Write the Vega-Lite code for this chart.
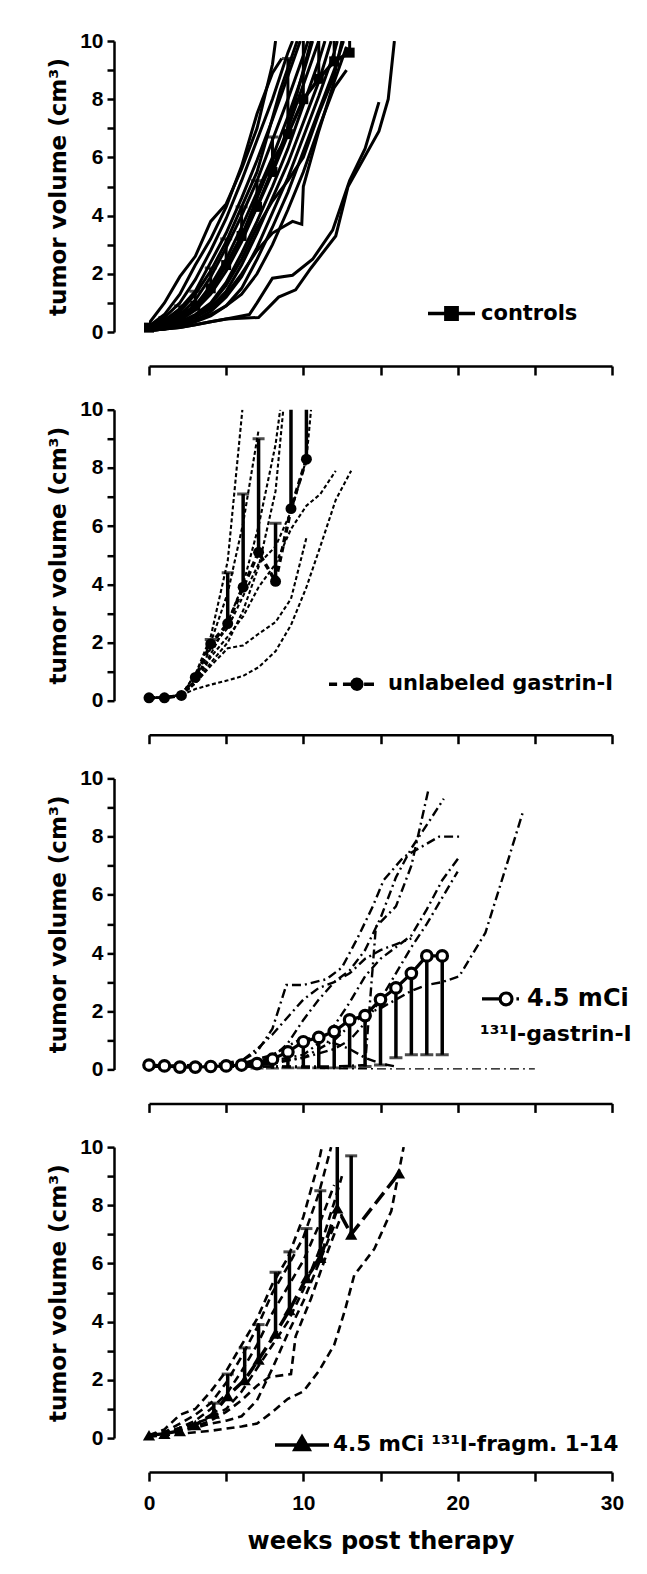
{
"$schema": "https://vega.github.io/schema/vega-lite/v6.json",
"padding": {"left": 47, "top": 30, "right": 0, "bottom": 0},
"background": "white",
"config": {
 "view": {"stroke": null},
 "axis": {"domainColor": "#000", "domainWidth": 2.5, "tickColor": "#000", "tickWidth": 2.5, "labelColor": "#000", "labelFont": "Liberation Sans", "labelFontWeight": "bold", "labelFontSize": 21, "titleColor": "#000", "titleFont": "DejaVu Sans", "titleFontWeight": "bold", "titleFontSize": 23, "grid": false},
 "legend": {"labelFont": "DejaVu Sans", "labelFontWeight": "bold", "labelFontSize": 21, "labelColor": "#000", "labelLimit": 500, "padding": 0, "titleFont": "DejaVu Sans", "titleFontWeight": "bold", "titleFontSize": 21, "titleColor": "#000", "titleLimit": 500, "symbolOpacity": 1, "symbolStrokeColor": "#000"}
},
"datasets": {
 "indiv": [
  {"panel":1,"mouse":"c1","week":0,"vol":0.3},{"panel":1,"mouse":"c1","week":1,"vol":1.0},{"panel":1,"mouse":"c1","week":2,"vol":1.9},{"panel":1,"mouse":"c1","week":3,"vol":2.6},{"panel":1,"mouse":"c1","week":4,"vol":3.8},{"panel":1,"mouse":"c1","week":5,"vol":4.4},{"panel":1,"mouse":"c1","week":6,"vol":5.6},{"panel":1,"mouse":"c1","week":7,"vol":7.0},{"panel":1,"mouse":"c1","week":8,"vol":9.2},{"panel":1,"mouse":"c1","week":8.2,"vol":10},
  {"panel":1,"mouse":"c2","week":0,"vol":0.2},{"panel":1,"mouse":"c2","week":1,"vol":0.6},{"panel":1,"mouse":"c2","week":2,"vol":1.3},{"panel":1,"mouse":"c2","week":3,"vol":2.3},{"panel":1,"mouse":"c2","week":4,"vol":3.2},{"panel":1,"mouse":"c2","week":5,"vol":4.3},{"panel":1,"mouse":"c2","week":6,"vol":5.7},{"panel":1,"mouse":"c2","week":7,"vol":7.5},{"panel":1,"mouse":"c2","week":8,"vol":8.9},{"panel":1,"mouse":"c2","week":8.6,"vol":9.4},
  {"panel":1,"mouse":"c3","week":0,"vol":0.2},{"panel":1,"mouse":"c3","week":1,"vol":0.5},{"panel":1,"mouse":"c3","week":2,"vol":1.0},{"panel":1,"mouse":"c3","week":3,"vol":1.8},{"panel":1,"mouse":"c3","week":4,"vol":2.8},{"panel":1,"mouse":"c3","week":5,"vol":3.9},{"panel":1,"mouse":"c3","week":6,"vol":5.2},{"panel":1,"mouse":"c3","week":7,"vol":6.6},{"panel":1,"mouse":"c3","week":8,"vol":8.0},{"panel":1,"mouse":"c3","week":9,"vol":9.6},{"panel":1,"mouse":"c3","week":9.3,"vol":10},
  {"panel":1,"mouse":"c4","week":0,"vol":0.15},{"panel":1,"mouse":"c4","week":1,"vol":0.4},{"panel":1,"mouse":"c4","week":2,"vol":0.8},{"panel":1,"mouse":"c4","week":3,"vol":1.4},{"panel":1,"mouse":"c4","week":4,"vol":2.4},{"panel":1,"mouse":"c4","week":5,"vol":3.4},{"panel":1,"mouse":"c4","week":6,"vol":4.6},{"panel":1,"mouse":"c4","week":7,"vol":5.9},{"panel":1,"mouse":"c4","week":8,"vol":7.3},{"panel":1,"mouse":"c4","week":9,"vol":8.8},{"panel":1,"mouse":"c4","week":9.8,"vol":10},
  {"panel":1,"mouse":"c5","week":0,"vol":0.1},{"panel":1,"mouse":"c5","week":1,"vol":0.3},{"panel":1,"mouse":"c5","week":2,"vol":0.6},{"panel":1,"mouse":"c5","week":3,"vol":1.1},{"panel":1,"mouse":"c5","week":4,"vol":1.9},{"panel":1,"mouse":"c5","week":5,"vol":2.9},{"panel":1,"mouse":"c5","week":6,"vol":4.0},{"panel":1,"mouse":"c5","week":7,"vol":5.2},{"panel":1,"mouse":"c5","week":8,"vol":6.6},{"panel":1,"mouse":"c5","week":9,"vol":8.0},{"panel":1,"mouse":"c5","week":10,"vol":9.5},{"panel":1,"mouse":"c5","week":10.3,"vol":10},
  {"panel":1,"mouse":"c6","week":0,"vol":0.1},{"panel":1,"mouse":"c6","week":1,"vol":0.25},{"panel":1,"mouse":"c6","week":2,"vol":0.5},{"panel":1,"mouse":"c6","week":3,"vol":0.9},{"panel":1,"mouse":"c6","week":4,"vol":1.6},{"panel":1,"mouse":"c6","week":5,"vol":2.5},{"panel":1,"mouse":"c6","week":6,"vol":3.6},{"panel":1,"mouse":"c6","week":7,"vol":4.8},{"panel":1,"mouse":"c6","week":8,"vol":6.0},{"panel":1,"mouse":"c6","week":9,"vol":7.4},{"panel":1,"mouse":"c6","week":10,"vol":8.9},{"panel":1,"mouse":"c6","week":10.6,"vol":10},
  {"panel":1,"mouse":"c7","week":0,"vol":0.1},{"panel":1,"mouse":"c7","week":1,"vol":0.2},{"panel":1,"mouse":"c7","week":2,"vol":0.4},{"panel":1,"mouse":"c7","week":3,"vol":0.75},{"panel":1,"mouse":"c7","week":4,"vol":1.3},{"panel":1,"mouse":"c7","week":5,"vol":2.1},{"panel":1,"mouse":"c7","week":6,"vol":3.1},{"panel":1,"mouse":"c7","week":7,"vol":4.3},{"panel":1,"mouse":"c7","week":8,"vol":5.6},{"panel":1,"mouse":"c7","week":9,"vol":7.0},{"panel":1,"mouse":"c7","week":10,"vol":8.5},{"panel":1,"mouse":"c7","week":11,"vol":10},
  {"panel":1,"mouse":"c8","week":0,"vol":0.1},{"panel":1,"mouse":"c8","week":1,"vol":0.2},{"panel":1,"mouse":"c8","week":2,"vol":0.35},{"panel":1,"mouse":"c8","week":3,"vol":0.6},{"panel":1,"mouse":"c8","week":4,"vol":1.0},{"panel":1,"mouse":"c8","week":5,"vol":1.7},{"panel":1,"mouse":"c8","week":6,"vol":2.7},{"panel":1,"mouse":"c8","week":7,"vol":3.8},{"panel":1,"mouse":"c8","week":8,"vol":5.0},{"panel":1,"mouse":"c8","week":9,"vol":6.3},{"panel":1,"mouse":"c8","week":10,"vol":7.8},{"panel":1,"mouse":"c8","week":11,"vol":9.3},{"panel":1,"mouse":"c8","week":11.4,"vol":10},
  {"panel":1,"mouse":"c9","week":0,"vol":0.1},{"panel":1,"mouse":"c9","week":1,"vol":0.15},{"panel":1,"mouse":"c9","week":2,"vol":0.3},{"panel":1,"mouse":"c9","week":3,"vol":0.5},{"panel":1,"mouse":"c9","week":4,"vol":0.85},{"panel":1,"mouse":"c9","week":5,"vol":1.4},{"panel":1,"mouse":"c9","week":6,"vol":2.3},{"panel":1,"mouse":"c9","week":7,"vol":3.4},{"panel":1,"mouse":"c9","week":8,"vol":4.6},{"panel":1,"mouse":"c9","week":9,"vol":5.8},{"panel":1,"mouse":"c9","week":10,"vol":7.2},{"panel":1,"mouse":"c9","week":11,"vol":8.6},{"panel":1,"mouse":"c9","week":11.8,"vol":10},
  {"panel":1,"mouse":"c10","week":0,"vol":0.05},{"panel":1,"mouse":"c10","week":1,"vol":0.1},{"panel":1,"mouse":"c10","week":2,"vol":0.25},{"panel":1,"mouse":"c10","week":3,"vol":0.4},{"panel":1,"mouse":"c10","week":4,"vol":0.7},{"panel":1,"mouse":"c10","week":5,"vol":1.2},{"panel":1,"mouse":"c10","week":6,"vol":1.9},{"panel":1,"mouse":"c10","week":7,"vol":2.9},{"panel":1,"mouse":"c10","week":8,"vol":4.1},{"panel":1,"mouse":"c10","week":9,"vol":5.3},{"panel":1,"mouse":"c10","week":10,"vol":6.7},{"panel":1,"mouse":"c10","week":11,"vol":8.1},{"panel":1,"mouse":"c10","week":12,"vol":9.6},{"panel":1,"mouse":"c10","week":12.2,"vol":10},
  {"panel":1,"mouse":"c11","week":0,"vol":0.05},{"panel":1,"mouse":"c11","week":1,"vol":0.1},{"panel":1,"mouse":"c11","week":2,"vol":0.2},{"panel":1,"mouse":"c11","week":3,"vol":0.35},{"panel":1,"mouse":"c11","week":4,"vol":0.55},{"panel":1,"mouse":"c11","week":5,"vol":0.9},{"panel":1,"mouse":"c11","week":6,"vol":1.5},{"panel":1,"mouse":"c11","week":7,"vol":2.5},{"panel":1,"mouse":"c11","week":8,"vol":3.6},{"panel":1,"mouse":"c11","week":9,"vol":4.8},{"panel":1,"mouse":"c11","week":10,"vol":6.2},{"panel":1,"mouse":"c11","week":11,"vol":7.6},{"panel":1,"mouse":"c11","week":12,"vol":9.0},{"panel":1,"mouse":"c11","week":12.6,"vol":10},
  {"panel":1,"mouse":"c12","week":0,"vol":0.1},{"panel":1,"mouse":"c12","week":1,"vol":0.2},{"panel":1,"mouse":"c12","week":2,"vol":0.3},{"panel":1,"mouse":"c12","week":3,"vol":0.5},{"panel":1,"mouse":"c12","week":4,"vol":0.8},{"panel":1,"mouse":"c12","week":5,"vol":1.3},{"panel":1,"mouse":"c12","week":6,"vol":2.0},{"panel":1,"mouse":"c12","week":7,"vol":2.8},{"panel":1,"mouse":"c12","week":8,"vol":3.4},{"panel":1,"mouse":"c12","week":9.3,"vol":3.8},{"panel":1,"mouse":"c12","week":9.9,"vol":3.7},{"panel":1,"mouse":"c12","week":10,"vol":5.0},{"panel":1,"mouse":"c12","week":11,"vol":6.9},{"panel":1,"mouse":"c12","week":12,"vol":8.6},{"panel":1,"mouse":"c12","week":12.8,"vol":9.8},
  {"panel":1,"mouse":"c13","week":0,"vol":0.1},{"panel":1,"mouse":"c13","week":1,"vol":0.15},{"panel":1,"mouse":"c13","week":2,"vol":0.25},{"panel":1,"mouse":"c13","week":3,"vol":0.4},{"panel":1,"mouse":"c13","week":4,"vol":0.6},{"panel":1,"mouse":"c13","week":5,"vol":0.9},{"panel":1,"mouse":"c13","week":6,"vol":1.3},{"panel":1,"mouse":"c13","week":7,"vol":2.0},{"panel":1,"mouse":"c13","week":8,"vol":3.0},{"panel":1,"mouse":"c13","week":9,"vol":4.2},{"panel":1,"mouse":"c13","week":10,"vol":5.5},{"panel":1,"mouse":"c13","week":11,"vol":7.0},{"panel":1,"mouse":"c13","week":12,"vol":8.4},{"panel":1,"mouse":"c13","week":12.8,"vol":9.0},
  {"panel":1,"mouse":"c14","week":0,"vol":0.05},{"panel":1,"mouse":"c14","week":1,"vol":0.1},{"panel":1,"mouse":"c14","week":2,"vol":0.15},{"panel":1,"mouse":"c14","week":3,"vol":0.25},{"panel":1,"mouse":"c14","week":4,"vol":0.35},{"panel":1,"mouse":"c14","week":5,"vol":0.45},{"panel":1,"mouse":"c14","week":6.5,"vol":0.6},{"panel":1,"mouse":"c14","week":7,"vol":1.0},{"panel":1,"mouse":"c14","week":8,"vol":1.85},{"panel":1,"mouse":"c14","week":9.3,"vol":1.95},{"panel":1,"mouse":"c14","week":10.6,"vol":2.5},{"panel":1,"mouse":"c14","week":11.9,"vol":3.5},{"panel":1,"mouse":"c14","week":13,"vol":5.2},{"panel":1,"mouse":"c14","week":14,"vol":6.3},{"panel":1,"mouse":"c14","week":14.9,"vol":7.9},
  {"panel":1,"mouse":"c15","week":0,"vol":0.05},{"panel":1,"mouse":"c15","week":1,"vol":0.1},{"panel":1,"mouse":"c15","week":2,"vol":0.15},{"panel":1,"mouse":"c15","week":3,"vol":0.25},{"panel":1,"mouse":"c15","week":4,"vol":0.35},{"panel":1,"mouse":"c15","week":5,"vol":0.45},{"panel":1,"mouse":"c15","week":7.1,"vol":0.5},{"panel":1,"mouse":"c15","week":8.4,"vol":1.2},{"panel":1,"mouse":"c15","week":9.5,"vol":1.45},{"panel":1,"mouse":"c15","week":10.5,"vol":2.2},{"panel":1,"mouse":"c15","week":12.1,"vol":3.3},{"panel":1,"mouse":"c15","week":12.9,"vol":5.0},{"panel":1,"mouse":"c15","week":14.9,"vol":6.9},{"panel":1,"mouse":"c15","week":15.5,"vol":8.0},{"panel":1,"mouse":"c15","week":15.9,"vol":10},
  {"panel":1,"mouse":"c16","week":0,"vol":0.1},{"panel":1,"mouse":"c16","week":1,"vol":0.2},{"panel":1,"mouse":"c16","week":2,"vol":0.45},{"panel":1,"mouse":"c16","week":3,"vol":0.8},{"panel":1,"mouse":"c16","week":4,"vol":1.4},{"panel":1,"mouse":"c16","week":5,"vol":2.3},{"panel":1,"mouse":"c16","week":6,"vol":3.3},{"panel":1,"mouse":"c16","week":7,"vol":4.6},{"panel":1,"mouse":"c16","week":8,"vol":5.9},{"panel":1,"mouse":"c16","week":8.7,"vol":6.5},{"panel":1,"mouse":"c16","week":9.5,"vol":8.0},{"panel":1,"mouse":"c16","week":10.5,"vol":10},
  {"panel":1,"mouse":"c17","week":0,"vol":0.1},{"panel":1,"mouse":"c17","week":1,"vol":0.15},{"panel":1,"mouse":"c17","week":2,"vol":0.3},{"panel":1,"mouse":"c17","week":3,"vol":0.55},{"panel":1,"mouse":"c17","week":4,"vol":0.95},{"panel":1,"mouse":"c17","week":5,"vol":1.6},{"panel":1,"mouse":"c17","week":6,"vol":2.5},{"panel":1,"mouse":"c17","week":7,"vol":3.6},{"panel":1,"mouse":"c17","week":8,"vol":4.5},{"panel":1,"mouse":"c17","week":9,"vol":5.2},{"panel":1,"mouse":"c17","week":10,"vol":6.0},{"panel":1,"mouse":"c17","week":11,"vol":7.5},{"panel":1,"mouse":"c17","week":12,"vol":8.8},{"panel":1,"mouse":"c17","week":12.5,"vol":10},
  {"panel":1,"mouse":"c18","week":0,"vol":0.15},{"panel":1,"mouse":"c18","week":1,"vol":0.35},{"panel":1,"mouse":"c18","week":2,"vol":0.7},{"panel":1,"mouse":"c18","week":3,"vol":1.3},{"panel":1,"mouse":"c18","week":4,"vol":2.1},{"panel":1,"mouse":"c18","week":5,"vol":3.1},{"panel":1,"mouse":"c18","week":6,"vol":4.3},{"panel":1,"mouse":"c18","week":7,"vol":5.5},{"panel":1,"mouse":"c18","week":7.6,"vol":6.6},{"panel":1,"mouse":"c18","week":8.5,"vol":8.3},{"panel":1,"mouse":"c18","week":9.6,"vol":10},

  {"panel":2,"mouse":"u1","week":0,"vol":0.1},{"panel":2,"mouse":"u1","week":1,"vol":0.1},{"panel":2,"mouse":"u1","week":2.1,"vol":0.2},{"panel":2,"mouse":"u1","week":3,"vol":0.9},{"panel":2,"mouse":"u1","week":4,"vol":2.2},{"panel":2,"mouse":"u1","week":5.1,"vol":4.8},{"panel":2,"mouse":"u1","week":6.05,"vol":10},
  {"panel":2,"mouse":"u2","week":0,"vol":0.1},{"panel":2,"mouse":"u2","week":1,"vol":0.1},{"panel":2,"mouse":"u2","week":2.1,"vol":0.2},{"panel":2,"mouse":"u2","week":3,"vol":0.7},{"panel":2,"mouse":"u2","week":4,"vol":1.6},{"panel":2,"mouse":"u2","week":5.1,"vol":2.7},{"panel":2,"mouse":"u2","week":6.1,"vol":4.0},{"panel":2,"mouse":"u2","week":7.1,"vol":6.0},{"panel":2,"mouse":"u2","week":8.2,"vol":8.8},{"panel":2,"mouse":"u2","week":8.5,"vol":10},
  {"panel":2,"mouse":"u3","week":0,"vol":0.1},{"panel":2,"mouse":"u3","week":1,"vol":0.1},{"panel":2,"mouse":"u3","week":2.1,"vol":0.2},{"panel":2,"mouse":"u3","week":3,"vol":0.9},{"panel":2,"mouse":"u3","week":4,"vol":2.0},{"panel":2,"mouse":"u3","week":5.1,"vol":3.7},{"panel":2,"mouse":"u3","week":6.1,"vol":6.1},{"panel":2,"mouse":"u3","week":7.1,"vol":9.3},
  {"panel":2,"mouse":"u4","week":0,"vol":0.1},{"panel":2,"mouse":"u4","week":1,"vol":0.1},{"panel":2,"mouse":"u4","week":2.1,"vol":0.2},{"panel":2,"mouse":"u4","week":3,"vol":0.6},{"panel":2,"mouse":"u4","week":4,"vol":1.3},{"panel":2,"mouse":"u4","week":5.1,"vol":2.0},{"panel":2,"mouse":"u4","week":6.1,"vol":3.1},{"panel":2,"mouse":"u4","week":7.1,"vol":4.6},{"panel":2,"mouse":"u4","week":8.2,"vol":7.2},{"panel":2,"mouse":"u4","week":8.7,"vol":10},
  {"panel":2,"mouse":"u5","week":0,"vol":0.1},{"panel":2,"mouse":"u5","week":1,"vol":0.1},{"panel":2,"mouse":"u5","week":2.1,"vol":0.2},{"panel":2,"mouse":"u5","week":3,"vol":0.6},{"panel":2,"mouse":"u5","week":4,"vol":1.5},{"panel":2,"mouse":"u5","week":5.1,"vol":2.2},{"panel":2,"mouse":"u5","week":6.1,"vol":2.9},{"panel":2,"mouse":"u5","week":7.1,"vol":3.9},{"panel":2,"mouse":"u5","week":8.2,"vol":4.7},{"panel":2,"mouse":"u5","week":9.2,"vol":5.9},{"panel":2,"mouse":"u5","week":10.2,"vol":6.7},{"panel":2,"mouse":"u5","week":11.1,"vol":7.1},{"panel":2,"mouse":"u5","week":12.1,"vol":7.9},
  {"panel":2,"mouse":"u6","week":0,"vol":0.1},{"panel":2,"mouse":"u6","week":1,"vol":0.1},{"panel":2,"mouse":"u6","week":2.1,"vol":0.2},{"panel":2,"mouse":"u6","week":3,"vol":0.4},{"panel":2,"mouse":"u6","week":4,"vol":0.55},{"panel":2,"mouse":"u6","week":5.1,"vol":0.7},{"panel":2,"mouse":"u6","week":6.1,"vol":0.85},{"panel":2,"mouse":"u6","week":7.1,"vol":1.15},{"panel":2,"mouse":"u6","week":8.2,"vol":1.7},{"panel":2,"mouse":"u6","week":9.2,"vol":2.6},{"panel":2,"mouse":"u6","week":10.2,"vol":3.9},{"panel":2,"mouse":"u6","week":11.1,"vol":5.3},{"panel":2,"mouse":"u6","week":12.1,"vol":6.9},{"panel":2,"mouse":"u6","week":13.1,"vol":7.9},
  {"panel":2,"mouse":"u7","week":0,"vol":0.1},{"panel":2,"mouse":"u7","week":1,"vol":0.1},{"panel":2,"mouse":"u7","week":2.1,"vol":0.2},{"panel":2,"mouse":"u7","week":3,"vol":0.6},{"panel":2,"mouse":"u7","week":4,"vol":1.2},{"panel":2,"mouse":"u7","week":5.1,"vol":1.8},{"panel":2,"mouse":"u7","week":6.1,"vol":1.9},{"panel":2,"mouse":"u7","week":7.1,"vol":2.3},{"panel":2,"mouse":"u7","week":8.2,"vol":2.7},{"panel":2,"mouse":"u7","week":9.2,"vol":3.5},{"panel":2,"mouse":"u7","week":10.2,"vol":5.6},
  {"panel":2,"mouse":"u8","week":0,"vol":0.1},{"panel":2,"mouse":"u8","week":1,"vol":0.1},{"panel":2,"mouse":"u8","week":2.1,"vol":0.2},{"panel":2,"mouse":"u8","week":3,"vol":0.7},{"panel":2,"mouse":"u8","week":4,"vol":1.8},{"panel":2,"mouse":"u8","week":5.1,"vol":2.5},{"panel":2,"mouse":"u8","week":6.1,"vol":3.6},{"panel":2,"mouse":"u8","week":7.1,"vol":4.7},{"panel":2,"mouse":"u8","week":8.2,"vol":5.3},{"panel":2,"mouse":"u8","week":9.2,"vol":6.5},{"panel":2,"mouse":"u8","week":10.2,"vol":8.3},{"panel":2,"mouse":"u8","week":10.5,"vol":10},

  {"panel":3,"mouse":"g1","week":0,"vol":0.1},{"panel":3,"mouse":"g1","week":2,"vol":0.1},{"panel":3,"mouse":"g1","week":4,"vol":0.15},{"panel":3,"mouse":"g1","week":6,"vol":0.3},{"panel":3,"mouse":"g1","week":7,"vol":0.6},{"panel":3,"mouse":"g1","week":8,"vol":1.4},{"panel":3,"mouse":"g1","week":8.9,"vol":2.9},{"panel":3,"mouse":"g1","week":10,"vol":2.9},{"panel":3,"mouse":"g1","week":11.5,"vol":3.1},{"panel":3,"mouse":"g1","week":12.5,"vol":3.5},{"panel":3,"mouse":"g1","week":13.5,"vol":4.5},{"panel":3,"mouse":"g1","week":14.5,"vol":5.6},{"panel":3,"mouse":"g1","week":15.2,"vol":6.5},{"panel":3,"mouse":"g1","week":16.5,"vol":7.3},{"panel":3,"mouse":"g1","week":17.5,"vol":7.6},{"panel":3,"mouse":"g1","week":18.8,"vol":8.0},{"panel":3,"mouse":"g1","week":20.2,"vol":8.0},
  {"panel":3,"mouse":"g2","week":0,"vol":0.1},{"panel":3,"mouse":"g2","week":4,"vol":0.1},{"panel":3,"mouse":"g2","week":6,"vol":0.2},{"panel":3,"mouse":"g2","week":8,"vol":0.4},{"panel":3,"mouse":"g2","week":9,"vol":0.9},{"panel":3,"mouse":"g2","week":10,"vol":1.7},{"panel":3,"mouse":"g2","week":11,"vol":2.4},{"panel":3,"mouse":"g2","week":12,"vol":3.0},{"panel":3,"mouse":"g2","week":13,"vol":3.4},{"panel":3,"mouse":"g2","week":14,"vol":4.1},{"panel":3,"mouse":"g2","week":15,"vol":5.2},{"panel":3,"mouse":"g2","week":16,"vol":6.6},{"panel":3,"mouse":"g2","week":17,"vol":7.6},{"panel":3,"mouse":"g2","week":18,"vol":8.4},{"panel":3,"mouse":"g2","week":19.1,"vol":9.3},
  {"panel":3,"mouse":"g3","week":0,"vol":0.1},{"panel":3,"mouse":"g3","week":6,"vol":0.1},{"panel":3,"mouse":"g3","week":10,"vol":0.1},{"panel":3,"mouse":"g3","week":12,"vol":0.1},{"panel":3,"mouse":"g3","week":14,"vol":0.15},{"panel":3,"mouse":"g3","week":14.7,"vol":4.9},{"panel":3,"mouse":"g3","week":16,"vol":5.6},{"panel":3,"mouse":"g3","week":17,"vol":7.0},{"panel":3,"mouse":"g3","week":18.1,"vol":9.6},
  {"panel":3,"mouse":"g4","week":0,"vol":0.1},{"panel":3,"mouse":"g4","week":6,"vol":0.2},{"panel":3,"mouse":"g4","week":8,"vol":0.3},{"panel":3,"mouse":"g4","week":10,"vol":0.5},{"panel":3,"mouse":"g4","week":11,"vol":0.9},{"panel":3,"mouse":"g4","week":12,"vol":1.5},{"panel":3,"mouse":"g4","week":13,"vol":2.3},{"panel":3,"mouse":"g4","week":14,"vol":3.2},{"panel":3,"mouse":"g4","week":15,"vol":3.8},{"panel":3,"mouse":"g4","week":16,"vol":4.2},{"panel":3,"mouse":"g4","week":17,"vol":4.6},{"panel":3,"mouse":"g4","week":18,"vol":5.5},{"panel":3,"mouse":"g4","week":19,"vol":6.5},{"panel":3,"mouse":"g4","week":20.1,"vol":7.3},
  {"panel":3,"mouse":"g5","week":0,"vol":0.1},{"panel":3,"mouse":"g5","week":6,"vol":0.15},{"panel":3,"mouse":"g5","week":8,"vol":0.25},{"panel":3,"mouse":"g5","week":10,"vol":0.4},{"panel":3,"mouse":"g5","week":12,"vol":0.7},{"panel":3,"mouse":"g5","week":13,"vol":1.0},{"panel":3,"mouse":"g5","week":14,"vol":1.6},{"panel":3,"mouse":"g5","week":15,"vol":2.4},{"panel":3,"mouse":"g5","week":16,"vol":3.3},{"panel":3,"mouse":"g5","week":17,"vol":4.2},{"panel":3,"mouse":"g5","week":18,"vol":5.0},{"panel":3,"mouse":"g5","week":19,"vol":5.9},{"panel":3,"mouse":"g5","week":20,"vol":6.8},
  {"panel":3,"mouse":"g6","week":0,"vol":0.1},{"panel":3,"mouse":"g6","week":6,"vol":0.15},{"panel":3,"mouse":"g6","week":8,"vol":0.2},{"panel":3,"mouse":"g6","week":10,"vol":0.4},{"panel":3,"mouse":"g6","week":12,"vol":1.0},{"panel":3,"mouse":"g6","week":13,"vol":1.5},{"panel":3,"mouse":"g6","week":14,"vol":1.9},{"panel":3,"mouse":"g6","week":15,"vol":2.1},{"panel":3,"mouse":"g6","week":16,"vol":2.4},{"panel":3,"mouse":"g6","week":17,"vol":2.7},{"panel":3,"mouse":"g6","week":18,"vol":2.9},{"panel":3,"mouse":"g6","week":19,"vol":3.0},{"panel":3,"mouse":"g6","week":20.1,"vol":3.2},{"panel":3,"mouse":"g6","week":21.8,"vol":4.7},{"panel":3,"mouse":"g6","week":23.1,"vol":6.9},{"panel":3,"mouse":"g6","week":24.2,"vol":8.8},
  {"panel":3,"mouse":"g7","week":0,"vol":0.1},{"panel":3,"mouse":"g7","week":4,"vol":0.1},{"panel":3,"mouse":"g7","week":8,"vol":0.1},{"panel":3,"mouse":"g7","week":11,"vol":0.05},{"panel":3,"mouse":"g7","week":13,"vol":0.02},{"panel":3,"mouse":"g7","week":15,"vol":0},{"panel":3,"mouse":"g7","week":20,"vol":0},{"panel":3,"mouse":"g7","week":25,"vol":0},
  {"panel":3,"mouse":"g8","week":0,"vol":0.1},{"panel":3,"mouse":"g8","week":5,"vol":0.15},{"panel":3,"mouse":"g8","week":6,"vol":0.3},{"panel":3,"mouse":"g8","week":7,"vol":0.7},{"panel":3,"mouse":"g8","week":8,"vol":1.2},{"panel":3,"mouse":"g8","week":9,"vol":1.8},{"panel":3,"mouse":"g8","week":10,"vol":2.4},{"panel":3,"mouse":"g8","week":11,"vol":2.8},{"panel":3,"mouse":"g8","week":12,"vol":3.0},{"panel":3,"mouse":"g8","week":13,"vol":3.3},{"panel":3,"mouse":"g8","week":14,"vol":3.8},{"panel":3,"mouse":"g8","week":15,"vol":4.1},{"panel":3,"mouse":"g8","week":16,"vol":4.3},{"panel":3,"mouse":"g8","week":17,"vol":4.5},
  {"panel":3,"mouse":"g9","week":0,"vol":0.1},{"panel":3,"mouse":"g9","week":6,"vol":0.2},{"panel":3,"mouse":"g9","week":8,"vol":0.5},{"panel":3,"mouse":"g9","week":9,"vol":0.8},{"panel":3,"mouse":"g9","week":10,"vol":1.1},{"panel":3,"mouse":"g9","week":11,"vol":1.0},{"panel":3,"mouse":"g9","week":12,"vol":0.9},{"panel":3,"mouse":"g9","week":13,"vol":0.7},{"panel":3,"mouse":"g9","week":14,"vol":0.4},{"panel":3,"mouse":"g9","week":15,"vol":0.2},{"panel":3,"mouse":"g9","week":16,"vol":0.1},

  {"panel":4,"mouse":"f1","week":0,"vol":0.1},{"panel":4,"mouse":"f1","week":1,"vol":0.3},{"panel":4,"mouse":"f1","week":2,"vol":0.8},{"panel":4,"mouse":"f1","week":3,"vol":1.0},{"panel":4,"mouse":"f1","week":4,"vol":1.6},{"panel":4,"mouse":"f1","week":5,"vol":2.3},{"panel":4,"mouse":"f1","week":6,"vol":3.2},{"panel":4,"mouse":"f1","week":7,"vol":4.1},{"panel":4,"mouse":"f1","week":8,"vol":5.3},{"panel":4,"mouse":"f1","week":9,"vol":6.2},{"panel":4,"mouse":"f1","week":10,"vol":7.6},{"panel":4,"mouse":"f1","week":11,"vol":9.5},{"panel":4,"mouse":"f1","week":11.2,"vol":10},
  {"panel":4,"mouse":"f2","week":0,"vol":0.1},{"panel":4,"mouse":"f2","week":1,"vol":0.2},{"panel":4,"mouse":"f2","week":2,"vol":0.5},{"panel":4,"mouse":"f2","week":3,"vol":0.8},{"panel":4,"mouse":"f2","week":4,"vol":1.2},{"panel":4,"mouse":"f2","week":5,"vol":1.9},{"panel":4,"mouse":"f2","week":6,"vol":2.8},{"panel":4,"mouse":"f2","week":7,"vol":3.8},{"panel":4,"mouse":"f2","week":8,"vol":5.0},{"panel":4,"mouse":"f2","week":9,"vol":5.9},{"panel":4,"mouse":"f2","week":10,"vol":6.9},{"panel":4,"mouse":"f2","week":11,"vol":8.4},{"panel":4,"mouse":"f2","week":11.8,"vol":10},
  {"panel":4,"mouse":"f3","week":0,"vol":0.05},{"panel":4,"mouse":"f3","week":1,"vol":0.15},{"panel":4,"mouse":"f3","week":2,"vol":0.35},{"panel":4,"mouse":"f3","week":3,"vol":0.6},{"panel":4,"mouse":"f3","week":4,"vol":1.0},{"panel":4,"mouse":"f3","week":5,"vol":1.5},{"panel":4,"mouse":"f3","week":6,"vol":2.3},{"panel":4,"mouse":"f3","week":7,"vol":3.2},{"panel":4,"mouse":"f3","week":8,"vol":4.3},{"panel":4,"mouse":"f3","week":9,"vol":5.2},{"panel":4,"mouse":"f3","week":10,"vol":6.1},{"panel":4,"mouse":"f3","week":11,"vol":7.3},{"panel":4,"mouse":"f3","week":12,"vol":8.7},
  {"panel":4,"mouse":"f4","week":0,"vol":0.1},{"panel":4,"mouse":"f4","week":1,"vol":0.2},{"panel":4,"mouse":"f4","week":2,"vol":0.3},{"panel":4,"mouse":"f4","week":3,"vol":0.4},{"panel":4,"mouse":"f4","week":4,"vol":0.6},{"panel":4,"mouse":"f4","week":5,"vol":0.9},{"panel":4,"mouse":"f4","week":6,"vol":1.3},{"panel":4,"mouse":"f4","week":7,"vol":1.8},{"panel":4,"mouse":"f4","week":7.8,"vol":2.1},{"panel":4,"mouse":"f4","week":9.2,"vol":2.2},{"panel":4,"mouse":"f4","week":9.5,"vol":3.5},{"panel":4,"mouse":"f4","week":10.5,"vol":4.8},{"panel":4,"mouse":"f4","week":11.5,"vol":6.3},{"panel":4,"mouse":"f4","week":12.5,"vol":7.7},
  {"panel":4,"mouse":"f5","week":0,"vol":0.05},{"panel":4,"mouse":"f5","week":2,"vol":0.15},{"panel":4,"mouse":"f5","week":4,"vol":0.25},{"panel":4,"mouse":"f5","week":6,"vol":0.4},{"panel":4,"mouse":"f5","week":7,"vol":0.5},{"panel":4,"mouse":"f5","week":8,"vol":0.9},{"panel":4,"mouse":"f5","week":9,"vol":1.35},{"panel":4,"mouse":"f5","week":10,"vol":1.6},{"panel":4,"mouse":"f5","week":11,"vol":2.3},{"panel":4,"mouse":"f5","week":12,"vol":3.2},{"panel":4,"mouse":"f5","week":12.7,"vol":4.4},{"panel":4,"mouse":"f5","week":13.3,"vol":5.6},{"panel":4,"mouse":"f5","week":14.6,"vol":6.5},{"panel":4,"mouse":"f5","week":15.7,"vol":7.8},{"panel":4,"mouse":"f5","week":16.5,"vol":10},
  {"panel":4,"mouse":"f6","week":0,"vol":0.1},{"panel":4,"mouse":"f6","week":1,"vol":0.2},{"panel":4,"mouse":"f6","week":2,"vol":0.35},{"panel":4,"mouse":"f6","week":3,"vol":0.5},{"panel":4,"mouse":"f6","week":4,"vol":0.7},{"panel":4,"mouse":"f6","week":5,"vol":1.0},{"panel":4,"mouse":"f6","week":6,"vol":1.6},{"panel":4,"mouse":"f6","week":7,"vol":2.4},{"panel":4,"mouse":"f6","week":8,"vol":3.2},{"panel":4,"mouse":"f6","week":9,"vol":4.0},{"panel":4,"mouse":"f6","week":10,"vol":5.1},{"panel":4,"mouse":"f6","week":11,"vol":6.4},{"panel":4,"mouse":"f6","week":12,"vol":8.1},{"panel":4,"mouse":"f6","week":12.5,"vol":9.0},
  {"panel":4,"mouse":"f7","week":0,"vol":0.1},{"panel":4,"mouse":"f7","week":1,"vol":0.15},{"panel":4,"mouse":"f7","week":2,"vol":0.25},{"panel":4,"mouse":"f7","week":3,"vol":0.35},{"panel":4,"mouse":"f7","week":4,"vol":0.5},{"panel":4,"mouse":"f7","week":5,"vol":0.6},{"panel":4,"mouse":"f7","week":6,"vol":0.75},{"panel":4,"mouse":"f7","week":7,"vol":1.3},{"panel":4,"mouse":"f7","week":8,"vol":2.4},{"panel":4,"mouse":"f7","week":9,"vol":3.6},{"panel":4,"mouse":"f7","week":10,"vol":4.7},{"panel":4,"mouse":"f7","week":11,"vol":6.0},{"panel":4,"mouse":"f7","week":12,"vol":7.3}
 ],
 "means": [
  {"panel":1,"group":"controls","week":0,"mean":0.15,"hi":0.25},{"panel":1,"group":"controls","week":1,"mean":0.3,"hi":0.5},{"panel":1,"group":"controls","week":2,"mean":0.55,"hi":0.9},{"panel":1,"group":"controls","week":3,"mean":0.9,"hi":1.4},{"panel":1,"group":"controls","week":4,"mean":1.5,"hi":2.2},{"panel":1,"group":"controls","week":5,"mean":2.3,"hi":3.2},{"panel":1,"group":"controls","week":6,"mean":3.3,"hi":4.3},{"panel":1,"group":"controls","week":7,"mean":4.3,"hi":5.2},{"panel":1,"group":"controls","week":8,"mean":5.5,"hi":6.7},{"panel":1,"group":"controls","week":9,"mean":6.8,"hi":9.4},{"panel":1,"group":"controls","week":10,"mean":8.0,"hi":10.5},{"panel":1,"group":"controls","week":11,"mean":8.7,"hi":10.5},{"panel":1,"group":"controls","week":12,"mean":9.3,"hi":10.3},{"panel":1,"group":"controls","week":13,"mean":9.6,"hi":10.2},
  {"panel":2,"group":"unlabeled gastrin-I","week":0,"mean":0.1},{"panel":2,"group":"unlabeled gastrin-I","week":1,"mean":0.1},{"panel":2,"group":"unlabeled gastrin-I","week":2.1,"mean":0.18},{"panel":2,"group":"unlabeled gastrin-I","week":3,"mean":0.8},{"panel":2,"group":"unlabeled gastrin-I","week":4,"mean":1.95,"hi":2.1},{"panel":2,"group":"unlabeled gastrin-I","week":5.1,"mean":2.65,"hi":4.4},{"panel":2,"group":"unlabeled gastrin-I","week":6.1,"mean":3.9,"hi":7.1},{"panel":2,"group":"unlabeled gastrin-I","week":7.1,"mean":5.1,"hi":9.0},{"panel":2,"group":"unlabeled gastrin-I","week":8.2,"mean":4.1,"hi":6.1},{"panel":2,"group":"unlabeled gastrin-I","week":9.2,"mean":6.6,"hi":10.5},{"panel":2,"group":"unlabeled gastrin-I","week":10.2,"mean":8.3,"hi":10.5},
  {"panel":3,"group":"4.5 mCi ¹³¹I-gastrin-I","week":0,"mean":0.15},{"panel":3,"group":"4.5 mCi ¹³¹I-gastrin-I","week":1,"mean":0.12},{"panel":3,"group":"4.5 mCi ¹³¹I-gastrin-I","week":2,"mean":0.08},{"panel":3,"group":"4.5 mCi ¹³¹I-gastrin-I","week":3,"mean":0.08},{"panel":3,"group":"4.5 mCi ¹³¹I-gastrin-I","week":4,"mean":0.1},{"panel":3,"group":"4.5 mCi ¹³¹I-gastrin-I","week":5,"mean":0.12},{"panel":3,"group":"4.5 mCi ¹³¹I-gastrin-I","week":6,"mean":0.15},{"panel":3,"group":"4.5 mCi ¹³¹I-gastrin-I","week":7,"mean":0.2,"lo":0.02},{"panel":3,"group":"4.5 mCi ¹³¹I-gastrin-I","week":8,"mean":0.35,"lo":0.02},{"panel":3,"group":"4.5 mCi ¹³¹I-gastrin-I","week":9,"mean":0.6,"lo":0.05},{"panel":3,"group":"4.5 mCi ¹³¹I-gastrin-I","week":10,"mean":0.95,"lo":0.05},{"panel":3,"group":"4.5 mCi ¹³¹I-gastrin-I","week":11,"mean":1.1,"lo":0.05},{"panel":3,"group":"4.5 mCi ¹³¹I-gastrin-I","week":12,"mean":1.3,"lo":0.05},{"panel":3,"group":"4.5 mCi ¹³¹I-gastrin-I","week":13,"mean":1.7,"lo":0.08},{"panel":3,"group":"4.5 mCi ¹³¹I-gastrin-I","week":14,"mean":1.85,"lo":0.1},{"panel":3,"group":"4.5 mCi ¹³¹I-gastrin-I","week":15,"mean":2.4,"lo":0.15},{"panel":3,"group":"4.5 mCi ¹³¹I-gastrin-I","week":16,"mean":2.8,"lo":0.4},{"panel":3,"group":"4.5 mCi ¹³¹I-gastrin-I","week":17,"mean":3.3,"lo":0.5},{"panel":3,"group":"4.5 mCi ¹³¹I-gastrin-I","week":18,"mean":3.9,"lo":0.5},{"panel":3,"group":"4.5 mCi ¹³¹I-gastrin-I","week":19,"mean":3.9,"lo":0.5},
  {"panel":4,"group":"4.5 mCi ¹³¹I-fragm. 1-14","week":0,"mean":0.1},{"panel":4,"group":"4.5 mCi ¹³¹I-fragm. 1-14","week":1,"mean":0.15},{"panel":4,"group":"4.5 mCi ¹³¹I-fragm. 1-14","week":2,"mean":0.25},{"panel":4,"group":"4.5 mCi ¹³¹I-fragm. 1-14","week":3,"mean":0.45},{"panel":4,"group":"4.5 mCi ¹³¹I-fragm. 1-14","week":4.2,"mean":0.85,"hi":1.2},{"panel":4,"group":"4.5 mCi ¹³¹I-fragm. 1-14","week":5.1,"mean":1.45,"hi":2.2},{"panel":4,"group":"4.5 mCi ¹³¹I-fragm. 1-14","week":6.2,"mean":2.0,"hi":3.1},{"panel":4,"group":"4.5 mCi ¹³¹I-fragm. 1-14","week":7.1,"mean":2.7,"hi":3.9},{"panel":4,"group":"4.5 mCi ¹³¹I-fragm. 1-14","week":8.2,"mean":3.6,"hi":5.7},{"panel":4,"group":"4.5 mCi ¹³¹I-fragm. 1-14","week":9.1,"mean":4.4,"hi":6.4},{"panel":4,"group":"4.5 mCi ¹³¹I-fragm. 1-14","week":10.2,"mean":5.5,"hi":7.2},{"panel":4,"group":"4.5 mCi ¹³¹I-fragm. 1-14","week":11.1,"mean":6.2,"hi":8.5},{"panel":4,"group":"4.5 mCi ¹³¹I-fragm. 1-14","week":12.2,"mean":7.9,"hi":10.5},{"panel":4,"group":"4.5 mCi ¹³¹I-fragm. 1-14","week":13.1,"mean":7.0,"hi":9.7},{"panel":4,"group":"4.5 mCi ¹³¹I-fragm. 1-14","week":16.2,"mean":9.1}
 ]
},
"spacing": 77.7,
"bounds": "flush",
"resolve": {"scale": {"color": "independent"}, "legend": {"color": "independent"}},
"vconcat": [
 {
  "width": 463, "height": 291,
  "encoding": {"x": {"field": "week", "type": "quantitative", "scale": {"domain": [0, 30], "nice": false}, "axis": {"offset": 34, "tickSize": 9, "values": [0, 5, 10, 15, 20, 25, 30], "labels": false, "title": null}}},
  "layer": [
   {"data": {"name": "indiv"}, "transform": [{"filter": "datum.panel === 1"}],
    "mark": {"type": "line", "clip": true, "color": "#000", "strokeWidth": 3},
    "encoding": {"y": {"field": "vol", "type": "quantitative", "scale": {"domain": [0, 10], "nice": false}, "axis": {"offset": 35, "tickSize": 7, "labelPadding": 4, "values": [0, 1, 2, 3, 4, 5, 6, 7, 8, 9, 10], "labelExpr": "datum.value % 2 === 0 ? datum.label : ''", "title": "tumor volume (cm³)", "titlePadding": 9}}, "detail": {"field": "mouse", "type": "nominal"}}},
   {"data": {"name": "means"}, "transform": [{"filter": "datum.panel === 1"}],
    "mark": {"type": "line", "clip": true, "strokeWidth": 3.5},
    "encoding": {"y": {"field": "mean", "type": "quantitative", "scale": {"domain": [0, 10], "nice": false}, "axis": {"offset": 35, "tickSize": 7, "labelPadding": 4, "values": [0, 1, 2, 3, 4, 5, 6, 7, 8, 9, 10], "labelExpr": "datum.value % 2 === 0 ? datum.label : ''", "title": "tumor volume (cm³)", "titlePadding": 9}},
     "color": {"field": "group", "type": "nominal", "scale": {"range": ["#000"]},
      "legend": {"orient": "none", "legendX": 277, "legendY": 247, "title": null, "labelOffset": 4, "symbolType": "M-1,0H1M-0.24,-0.24H0.24V0.24H-0.24Z", "symbolSize": 2209, "symbolFillColor": "#000", "symbolStrokeColor": "#000", "symbolStrokeWidth": 3.5}}}},
   {"data": {"name": "means"}, "transform": [{"filter": "datum.panel === 1 && isValid(datum.hi)"}],
    "mark": {"type": "rule", "clip": true, "color": "#000", "strokeWidth": 3},
    "encoding": {"y": {"field": "mean", "type": "quantitative", "scale": {"domain": [0, 10], "nice": false}, "axis": {"offset": 35, "tickSize": 7, "labelPadding": 4, "values": [0, 1, 2, 3, 4, 5, 6, 7, 8, 9, 10], "labelExpr": "datum.value % 2 === 0 ? datum.label : ''", "title": "tumor volume (cm³)", "titlePadding": 9}}, "y2": {"field": "hi"}}},
   {"data": {"name": "means"}, "transform": [{"filter": "datum.panel === 1 && isValid(datum.hi)"}],
    "mark": {"type": "tick", "orient": "horizontal", "clip": true, "color": "#000", "thickness": 3, "size": 12},
    "encoding": {"y": {"field": "hi", "type": "quantitative", "scale": {"domain": [0, 10], "nice": false}, "axis": {"offset": 35, "tickSize": 7, "labelPadding": 4, "values": [0, 1, 2, 3, 4, 5, 6, 7, 8, 9, 10], "labelExpr": "datum.value % 2 === 0 ? datum.label : ''", "title": "tumor volume (cm³)", "titlePadding": 9}}}},
   {"data": {"name": "means"}, "transform": [{"filter": "datum.panel === 1"}],
    "mark": {"type": "point", "shape": "square", "filled": true, "color": "#000", "opacity": 1, "size": 100},
    "encoding": {"y": {"field": "mean", "type": "quantitative", "scale": {"domain": [0, 10], "nice": false}, "axis": {"offset": 35, "tickSize": 7, "labelPadding": 4, "values": [0, 1, 2, 3, 4, 5, 6, 7, 8, 9, 10], "labelExpr": "datum.value % 2 === 0 ? datum.label : ''", "title": "tumor volume (cm³)", "titlePadding": 9}}}}
  ]
 },
 {
  "width": 463, "height": 291,
  "encoding": {"x": {"field": "week", "type": "quantitative", "scale": {"domain": [0, 30], "nice": false}, "axis": {"offset": 34, "tickSize": 9, "values": [0, 5, 10, 15, 20, 25, 30], "labels": false, "title": null}}},
  "layer": [
   {"data": {"name": "indiv"}, "transform": [{"filter": "datum.panel === 2"}],
    "mark": {"type": "line", "clip": true, "color": "#000", "strokeWidth": 2.1, "strokeDash": [4, 2.5]},
    "encoding": {"y": {"field": "vol", "type": "quantitative", "scale": {"domain": [0, 10], "nice": false}, "axis": {"offset": 35, "tickSize": 7, "labelPadding": 4, "values": [0, 1, 2, 3, 4, 5, 6, 7, 8, 9, 10], "labelExpr": "datum.value % 2 === 0 ? datum.label : ''", "title": "tumor volume (cm³)", "titlePadding": 9}}, "detail": {"field": "mouse", "type": "nominal"}}},
   {"data": {"name": "means"}, "transform": [{"filter": "datum.panel === 2"}],
    "mark": {"type": "line", "clip": true, "strokeWidth": 3.5, "strokeDash": [6, 4]},
    "encoding": {"y": {"field": "mean", "type": "quantitative", "scale": {"domain": [0, 10], "nice": false}, "axis": {"offset": 35, "tickSize": 7, "labelPadding": 4, "values": [0, 1, 2, 3, 4, 5, 6, 7, 8, 9, 10], "labelExpr": "datum.value % 2 === 0 ? datum.label : ''", "title": "tumor volume (cm³)", "titlePadding": 9}},
     "color": {"field": "group", "type": "nominal", "scale": {"range": ["#000"]},
      "legend": {"orient": "none", "legendX": 178, "legendY": 250, "title": null, "labelOffset": 12, "symbolType": "M-1,0H-0.64M-0.38,0H0.02M0.46,0L0.43,0.11L0.35,0.19L0.24,0.22L0.13,0.19L0.05,0.11L0.02,0L0.05,-0.11L0.13,-0.19L0.24,-0.22L0.35,-0.19L0.43,-0.11ZM0.56,0H1", "symbolSize": 2025, "symbolFillColor": "#000", "symbolStrokeColor": "#000", "symbolStrokeWidth": 3.5, "symbolDash": [1, 0]}}}},
   {"data": {"name": "means"}, "transform": [{"filter": "datum.panel === 2 && isValid(datum.hi)"}],
    "mark": {"type": "rule", "clip": true, "color": "#000", "strokeWidth": 3.5},
    "encoding": {"y": {"field": "mean", "type": "quantitative", "scale": {"domain": [0, 10], "nice": false}, "axis": {"offset": 35, "tickSize": 7, "labelPadding": 4, "values": [0, 1, 2, 3, 4, 5, 6, 7, 8, 9, 10], "labelExpr": "datum.value % 2 === 0 ? datum.label : ''", "title": "tumor volume (cm³)", "titlePadding": 9}}, "y2": {"field": "hi"}}},
   {"data": {"name": "means"}, "transform": [{"filter": "datum.panel === 2 && isValid(datum.hi)"}],
    "mark": {"type": "tick", "orient": "horizontal", "clip": true, "color": "#000", "thickness": 3, "size": 12},
    "encoding": {"y": {"field": "hi", "type": "quantitative", "scale": {"domain": [0, 10], "nice": false}, "axis": {"offset": 35, "tickSize": 7, "labelPadding": 4, "values": [0, 1, 2, 3, 4, 5, 6, 7, 8, 9, 10], "labelExpr": "datum.value % 2 === 0 ? datum.label : ''", "title": "tumor volume (cm³)", "titlePadding": 9}}}},
   {"data": {"name": "means"}, "transform": [{"filter": "datum.panel === 2"}],
    "mark": {"type": "point", "shape": "circle", "filled": true, "color": "#000", "opacity": 1, "size": 120},
    "encoding": {"y": {"field": "mean", "type": "quantitative", "scale": {"domain": [0, 10], "nice": false}, "axis": {"offset": 35, "tickSize": 7, "labelPadding": 4, "values": [0, 1, 2, 3, 4, 5, 6, 7, 8, 9, 10], "labelExpr": "datum.value % 2 === 0 ? datum.label : ''", "title": "tumor volume (cm³)", "titlePadding": 9}}}}
  ]
 },
 {
  "width": 463, "height": 291,
  "encoding": {"x": {"field": "week", "type": "quantitative", "scale": {"domain": [0, 30], "nice": false}, "axis": {"offset": 34, "tickSize": 9, "values": [0, 5, 10, 15, 20, 25, 30], "labels": false, "title": null}}},
  "layer": [
   {"data": {"name": "indiv"}, "transform": [{"filter": "datum.panel === 3"}],
    "mark": {"type": "line", "clip": true, "color": "#000", "strokeWidth": 2.4, "strokeDash": [9, 4, 2, 4]},
    "encoding": {"y": {"field": "vol", "type": "quantitative", "scale": {"domain": [0, 10], "nice": false}, "axis": {"offset": 35, "tickSize": 7, "labelPadding": 4, "values": [0, 1, 2, 3, 4, 5, 6, 7, 8, 9, 10], "labelExpr": "datum.value % 2 === 0 ? datum.label : ''", "title": "tumor volume (cm³)", "titlePadding": 9}}, "detail": {"field": "mouse", "type": "nominal"}}},
   {"data": {"name": "means"}, "transform": [{"filter": "datum.panel === 3"}],
    "mark": {"type": "line", "clip": true, "strokeWidth": 3.2},
    "encoding": {"y": {"field": "mean", "type": "quantitative", "scale": {"domain": [0, 10], "nice": false}, "axis": {"offset": 35, "tickSize": 7, "labelPadding": 4, "values": [0, 1, 2, 3, 4, 5, 6, 7, 8, 9, 10], "labelExpr": "datum.value % 2 === 0 ? datum.label : ''", "title": "tumor volume (cm³)", "titlePadding": 9}},
     "color": {"field": "group", "type": "nominal", "scale": {"range": ["#000"]},
      "legend": {"orient": "none", "legendX": 331, "legendY": 200, "title": "¹³¹I-gastrin-I", "titleOrient": "bottom", "titleAnchor": "start", "titlePadding": 13, "titleFontSize": 22, "labelFontSize": 24, "labelOffset": 6, "labelExpr": "substring(datum.label, 0, 7)", "symbolType": "M-1,0H-0.02M0.62,0A0.32,0.32 0 1,1 -0.02,0A0.32,0.32 0 1,1 0.62,0M0.86,0H1", "symbolSize": 1369, "symbolFillColor": "#fff", "symbolStrokeColor": "#000", "symbolStrokeWidth": 3.2}}}},
   {"data": {"name": "means"}, "transform": [{"filter": "datum.panel === 3 && isValid(datum.lo)"}],
    "mark": {"type": "rule", "clip": true, "color": "#000", "strokeWidth": 3.5},
    "encoding": {"y": {"field": "lo", "type": "quantitative", "scale": {"domain": [0, 10], "nice": false}, "axis": {"offset": 35, "tickSize": 7, "labelPadding": 4, "values": [0, 1, 2, 3, 4, 5, 6, 7, 8, 9, 10], "labelExpr": "datum.value % 2 === 0 ? datum.label : ''", "title": "tumor volume (cm³)", "titlePadding": 9}}, "y2": {"field": "mean"}}},
   {"data": {"name": "means"}, "transform": [{"filter": "datum.panel === 3 && isValid(datum.lo)"}],
    "mark": {"type": "tick", "orient": "horizontal", "clip": true, "color": "#000", "thickness": 3, "size": 13},
    "encoding": {"y": {"field": "lo", "type": "quantitative", "scale": {"domain": [0, 10], "nice": false}, "axis": {"offset": 35, "tickSize": 7, "labelPadding": 4, "values": [0, 1, 2, 3, 4, 5, 6, 7, 8, 9, 10], "labelExpr": "datum.value % 2 === 0 ? datum.label : ''", "title": "tumor volume (cm³)", "titlePadding": 9}}}},
   {"data": {"name": "means"}, "transform": [{"filter": "datum.panel === 3"}],
    "mark": {"type": "point", "shape": "circle", "filled": true, "fill": "#fff", "stroke": "#000", "strokeWidth": 3.2, "opacity": 1, "size": 110},
    "encoding": {"y": {"field": "mean", "type": "quantitative", "scale": {"domain": [0, 10], "nice": false}, "axis": {"offset": 35, "tickSize": 7, "labelPadding": 4, "values": [0, 1, 2, 3, 4, 5, 6, 7, 8, 9, 10], "labelExpr": "datum.value % 2 === 0 ? datum.label : ''", "title": "tumor volume (cm³)", "titlePadding": 9}}}}
  ]
 },
 {
  "width": 463, "height": 291,
  "encoding": {"x": {"field": "week", "type": "quantitative", "scale": {"domain": [0, 30], "nice": false}, "axis": {"offset": 34, "tickSize": 9, "values": [0, 5, 10, 15, 20, 25, 30], "labelExpr": "datum.value % 10 === 0 ? datum.label : ''", "labelFlush": false, "labelPadding": 11, "title": "weeks post therapy", "titleFontSize": 24, "titlePadding": 16}}},
  "layer": [
   {"data": {"name": "indiv"}, "transform": [{"filter": "datum.panel === 4"}],
    "mark": {"type": "line", "clip": true, "color": "#000", "strokeWidth": 2.6, "strokeDash": [8, 5]},
    "encoding": {"y": {"field": "vol", "type": "quantitative", "scale": {"domain": [0, 10], "nice": false}, "axis": {"offset": 35, "tickSize": 7, "labelPadding": 4, "values": [0, 1, 2, 3, 4, 5, 6, 7, 8, 9, 10], "labelExpr": "datum.value % 2 === 0 ? datum.label : ''", "title": "tumor volume (cm³)", "titlePadding": 9}}, "detail": {"field": "mouse", "type": "nominal"}}},
   {"data": {"name": "means"}, "transform": [{"filter": "datum.panel === 4"}],
    "mark": {"type": "line", "clip": true, "strokeWidth": 3.5, "strokeDash": [14, 6]},
    "encoding": {"y": {"field": "mean", "type": "quantitative", "scale": {"domain": [0, 10], "nice": false}, "axis": {"offset": 35, "tickSize": 7, "labelPadding": 4, "values": [0, 1, 2, 3, 4, 5, 6, 7, 8, 9, 10], "labelExpr": "datum.value % 2 === 0 ? datum.label : ''", "title": "tumor volume (cm³)", "titlePadding": 9}},
     "color": {"field": "group", "type": "nominal", "scale": {"range": ["#000"]},
      "legend": {"orient": "none", "legendX": 124, "legendY": 269, "title": null, "labelOffset": 2, "labelFontSize": 21.5, "symbolType": "M-1,0H1M0,-0.3L0.26,0.16H-0.26Z", "symbolSize": 2916, "symbolFillColor": "#000", "symbolStrokeColor": "#000", "symbolStrokeWidth": 3.5, "symbolDash": [1, 0]}}}},
   {"data": {"name": "means"}, "transform": [{"filter": "datum.panel === 4 && isValid(datum.hi)"}],
    "mark": {"type": "rule", "clip": true, "color": "#000", "strokeWidth": 3.5},
    "encoding": {"y": {"field": "mean", "type": "quantitative", "scale": {"domain": [0, 10], "nice": false}, "axis": {"offset": 35, "tickSize": 7, "labelPadding": 4, "values": [0, 1, 2, 3, 4, 5, 6, 7, 8, 9, 10], "labelExpr": "datum.value % 2 === 0 ? datum.label : ''", "title": "tumor volume (cm³)", "titlePadding": 9}}, "y2": {"field": "hi"}}},
   {"data": {"name": "means"}, "transform": [{"filter": "datum.panel === 4 && isValid(datum.hi)"}],
    "mark": {"type": "tick", "orient": "horizontal", "clip": true, "color": "#000", "thickness": 3, "size": 12},
    "encoding": {"y": {"field": "hi", "type": "quantitative", "scale": {"domain": [0, 10], "nice": false}, "axis": {"offset": 35, "tickSize": 7, "labelPadding": 4, "values": [0, 1, 2, 3, 4, 5, 6, 7, 8, 9, 10], "labelExpr": "datum.value % 2 === 0 ? datum.label : ''", "title": "tumor volume (cm³)", "titlePadding": 9}}}},
   {"data": {"name": "means"}, "transform": [{"filter": "datum.panel === 4"}],
    "mark": {"type": "point", "shape": "triangle-up", "filled": true, "color": "#000", "opacity": 1, "size": 150},
    "encoding": {"y": {"field": "mean", "type": "quantitative", "scale": {"domain": [0, 10], "nice": false}, "axis": {"offset": 35, "tickSize": 7, "labelPadding": 4, "values": [0, 1, 2, 3, 4, 5, 6, 7, 8, 9, 10], "labelExpr": "datum.value % 2 === 0 ? datum.label : ''", "title": "tumor volume (cm³)", "titlePadding": 9}}}}
  ]
 }
]
}
